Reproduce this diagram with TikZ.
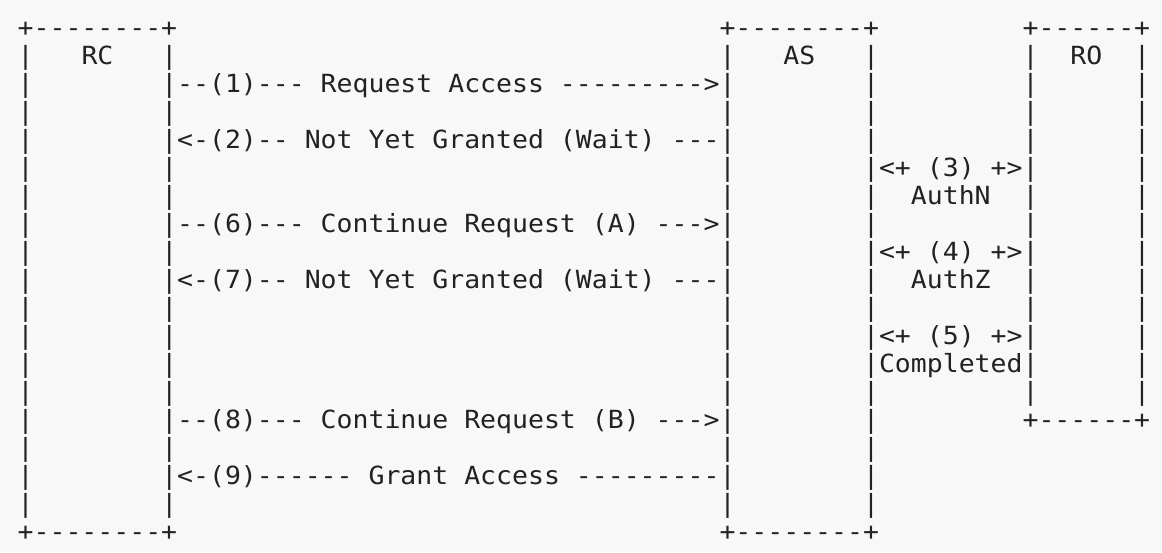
\documentclass[tikz,border=0pt]{standalone}
\usepackage{fontspec}
\setmonofont[FakeStretch=1.0597]{DejaVu Sans Mono}
\definecolor{bg}{HTML}{F8F8F8}
\definecolor{ink}{HTML}{222222}
\tikzset{asc/.style={anchor=base west, inner sep=0pt, outer sep=0pt, text=ink,
  font=\ttfamily\fontsize{25}{28}\selectfont\frenchspacing}}
\newcommand\cell[4]{\node[asc] (#1) at ({17.7+15.95*(#3)},{-(36+28*(#2))}) {#4};}
\begin{document}
\begin{tikzpicture}[x=1pt,y=1pt]
\fill[bg] (0,0) rectangle (1162,-552);
\useasboundingbox (0,0) rectangle (1162,-552);
% box tops and bottoms
\cell{rcTop}{0}{0}{+--------+}
\cell{asTop}{0}{44}{+--------+}
\cell{roTop}{0}{63}{+------+}
\cell{rcBot}{18}{0}{+--------+}
\cell{asBot}{18}{44}{+--------+}
\cell{roBot}{14}{63}{+------+}
% box sides
\foreach \r in {1,...,17}{
  \cell{rcL\r}{\r}{0}{|}
  \cell{rcR\r}{\r}{9}{|}
  \cell{asL\r}{\r}{44}{|}
  \cell{asR\r}{\r}{53}{|}
}
\foreach \r in {1,...,13}{
  \cell{roL\r}{\r}{63}{|}
  \cell{roR\r}{\r}{70}{|}
}
% titles
\cell{rc}{1}{4}{RC}
\cell{as}{1}{48}{AS}
\cell{ro}{1}{66}{RO}
% messages
\cell{m1}{2}{10}{--(1)--- Request Access --------->}
\cell{m2}{4}{10}{<-(2)-- Not Yet Granted (Wait) ---}
\cell{m6}{7}{10}{--(6)--- Continue Request (A) --->}
\cell{m7}{9}{10}{<-(7)-- Not Yet Granted (Wait) ---}
\cell{m8}{14}{10}{--(8)--- Continue Request (B) --->}
\cell{m9}{16}{10}{<-(9)------ Grant Access ---------}
% AS <-> RO interactions
\cell{s3}{5}{54}{<+ (3) +>}
\cell{l3}{6}{56}{AuthN}
\cell{s4}{8}{54}{<+ (4) +>}
\cell{l4}{9}{56}{AuthZ}
\cell{s5}{11}{54}{<+ (5) +>}
\cell{l5}{12}{54}{Completed}
\end{tikzpicture}
\end{document}
